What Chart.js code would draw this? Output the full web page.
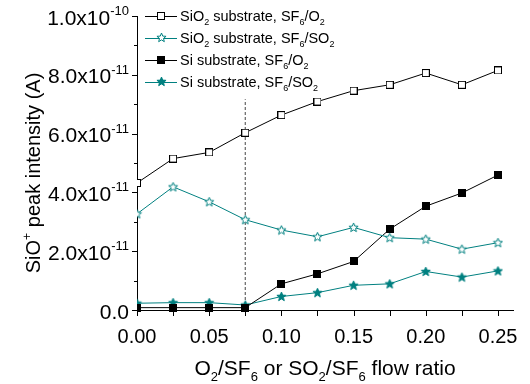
<!DOCTYPE html>
<html>
<head>
<meta charset="utf-8">
<script src="https://cdn.jsdelivr.net/npm/chart.js@4"></script>
<style>
  html, body { margin: 0; padding: 0; background: #fff; }
  #wrap { width: 530px; height: 384px; }
</style>
</head>
<body>
<div id="wrap"><canvas id="grafico"></canvas></div>
<script>
// Dados
const ratio = [0, 0.025, 0.05, 0.075, 0.1, 0.125, 0.15, 0.175, 0.2, 0.225, 0.25];
const sio2O2 = [4.32e-11, 5.15e-11, 5.36e-11, 6.03e-11, 6.63e-11, 7.09e-11, 7.46e-11, 7.66e-11, 8.06e-11, 7.66e-11, 8.15e-11];
const sio2SO2 = [3.27e-11, 4.19e-11, 3.68e-11, 3.07e-11, 2.72e-11, 2.49e-11, 2.81e-11, 2.46e-11, 2.41e-11, 2.07e-11, 2.29e-11];
const siO2 = [0.08e-11, 0.08e-11, 0.08e-11, 0.08e-11, 0.89e-11, 1.23e-11, 1.65e-11, 2.75e-11, 3.53e-11, 3.98e-11, 4.59e-11];
const siSO2 = [0.23e-11, 0.25e-11, 0.25e-11, 0.17e-11, 0.46e-11, 0.59e-11, 0.84e-11, 0.89e-11, 1.31e-11, 1.12e-11, 1.33e-11];

// linha tracejada vertical
const dashX = 0.075;
const dashTop = 7.17e-11;

// Eixos
const xTickValues = [0, 0.05, 0.1, 0.15, 0.2, 0.25];
const xTickLabels = ['0.00', '0.05', '0.10', '0.15', '0.20', '0.25'];
const xMinorValues = [0.025, 0.075, 0.125, 0.175, 0.225];
const yTickValues = [0, 2e-11, 4e-11, 6e-11, 8e-11, 1e-10];
const yTickLabels = ['0.0', '2.0x10^{-11}', '4.0x10^{-11}', '6.0x10^{-11}', '8.0x10^{-11}', '1.0x10^{-10}'];
const yMinorValues = [1e-11, 3e-11, 5e-11, 7e-11, 9e-11];

const legendLabels = ['SiO_2 substrate, SF_6/O_2', 'SiO_2 substrate, SF_6/SO_2', 'Si substrate, SF_6/O_2', 'Si substrate, SF_6/SO_2'];
const xTitle = 'O_2/SF_6 or SO_2/SF_6 flow ratio';
const yTitle = 'SiO^+ peak intensity (A)';

const teal = '#008080';
const FONT = "'Liberation Sans', Arial, sans-serif";

// Marcadores
function quadrado(cheio) {
    const c = document.createElement('canvas');
    c.width = 8; c.height = 8;
    const g = c.getContext('2d');
    g.fillStyle = cheio ? '#000' : '#fff';
    g.fillRect(0, 0, 8, 8);
    g.strokeStyle = '#000';
    g.lineWidth = 1;
    g.strokeRect(0.5, 0.5, 7, 7);
    return c;
}

function estrela(cheia) {
    const c = document.createElement('canvas');
    c.width = 11; c.height = 11;
    const g = c.getContext('2d');
    g.beginPath();
    for (let i = 0; i < 10; i++) {
        const r = i % 2 ? 2.1 : 4.8;
        const a = -Math.PI / 2 + i * Math.PI / 5;
        const px = 5.5 + r * Math.cos(a), py = 5.8 + r * Math.sin(a);
        if (i === 0) g.moveTo(px, py); else g.lineTo(px, py);
    }
    g.closePath();
    g.fillStyle = cheia ? teal : '#fff';
    g.fill();
    g.strokeStyle = teal;
    g.lineWidth = 1;
    g.stroke();
    return c;
}

const marcadores = [quadrado(false), estrela(false), quadrado(true), estrela(true)];
const cores = ['#000', teal, '#000', teal];

// Texto com sub/sobrescrito
function parseRich(str) {
    const segs = [];
    let buf = '';
    for (let i = 0; i < str.length; i++) {
        const ch = str[i];
        if (ch === '_' || ch === '^') {
            if (buf) { segs.push({ t: buf, m: 0 }); buf = ''; }
            let t;
            if (str[i + 1] === '{') {
                const end = str.indexOf('}', i + 2);
                t = str.slice(i + 2, end);
                i = end;
            } else {
                t = str[i + 1];
                i++;
            }
            segs.push({ t: t, m: ch === '_' ? 1 : -1 });
        } else {
            buf += ch;
        }
    }
    if (buf) segs.push({ t: buf, m: 0 });
    return segs;
}

function drawRich(ctx, str, x, y, size, align) {
    const segs = parseRich(str);
    const small = size * 0.62;
    let total = 0;
    segs.forEach(s => {
        ctx.font = (s.m ? small : size) + 'px ' + FONT;
        s.w = ctx.measureText(s.t).width;
        total += s.w;
    });
    let cx = align === 'right' ? x - total : align === 'center' ? x - total / 2 : x;
    ctx.textAlign = 'left';
    ctx.textBaseline = 'alphabetic';
    segs.forEach(s => {
        ctx.font = (s.m ? small : size) + 'px ' + FONT;
        const dy = s.m === 1 ? size * 0.28 : s.m === -1 ? -size * 0.45 : 0;
        ctx.fillText(s.t, cx, y + dy);
        cx += s.w;
    });
}

// Eixos, títulos e legenda desenhados à mão
const eixosPlugin = {
    id: 'eixos',
    afterDraw(chart) {
        const ctx = chart.ctx;
        const xs = chart.scales.x, ys = chart.scales.y;
        const area = chart.chartArea;
        ctx.save();
        ctx.strokeStyle = '#000';
        ctx.fillStyle = '#000';
        ctx.lineWidth = 1;

        // ticks y
        ctx.beginPath();
        yTickValues.forEach(v => {
            const py = Math.round(ys.getPixelForValue(v)) + 0.5;
            ctx.moveTo(area.left - 5, py); ctx.lineTo(area.left, py);
        });
        yMinorValues.forEach(v => {
            const py = Math.round(ys.getPixelForValue(v)) + 0.5;
            ctx.moveTo(area.left - 3, py); ctx.lineTo(area.left, py);
        });
        // ticks x
        xTickValues.concat(xMinorValues).forEach(v => {
            const px = Math.round(xs.getPixelForValue(v)) + 0.5;
            ctx.moveTo(px, area.bottom); ctx.lineTo(px, area.bottom + 6);
        });
        ctx.stroke();

        yTickValues.forEach((v, i) => {
            drawRich(ctx, yTickLabels[i], 129, ys.getPixelForValue(v) + 8.5, 21, 'right');
        });
        xTickValues.forEach((v, i) => {
            drawRich(ctx, xTickLabels[i], xs.getPixelForValue(v), area.bottom + 33, 20, 'center');
        });

        drawRich(ctx, xTitle, 325, 375, 21, 'center');

        ctx.save();
        ctx.translate(40, 173);
        ctx.rotate(-Math.PI / 2);
        drawRich(ctx, yTitle, 0, 0, 20, 'center');
        ctx.restore();

        // legenda
        legendLabels.forEach((lab, i) => {
            const ly = 15.5 + i * 22;
            ctx.strokeStyle = cores[i];
            ctx.beginPath();
            ctx.moveTo(145, Math.round(ly) + 0.5);
            ctx.lineTo(177, Math.round(ly) + 0.5);
            ctx.stroke();
            const m = marcadores[i];
            ctx.drawImage(m, Math.round(161 - m.width / 2), Math.round(ly - m.height / 2));
            ctx.fillStyle = '#000';
            drawRich(ctx, lab, 180, ly + 5, 14.5, 'left');
        });
        ctx.restore();
    }
};

const series = [sio2O2, sio2SO2, siO2, siSO2];
const datasets = series.map((s, i) => ({
    label: legendLabels[i],
    data: ratio.map((r, k) => ({ x: r, y: s[k] })),
    borderColor: cores[i],
    borderWidth: 1,
    pointStyle: marcadores[i],
    pointRadius: 4,
    clip: { left: 0, top: false, right: false, bottom: false },
    order: i,
}));
datasets.push({
    label: 'corte',
    data: [{ x: dashX, y: 0 }, { x: dashX, y: dashTop }],
    borderColor: '#666',
    borderWidth: 1.2,
    borderDash: [3, 2],
    pointRadius: 0,
    order: 10,
});

new Chart(document.getElementById('grafico'), {
    type: 'line',
    data: { datasets: datasets },
    options: {
        responsive: true,
        maintainAspectRatio: false,
        animation: false,
        layout: { padding: { top: 16, right: 17, left: 0, bottom: 0 } },
        plugins: { legend: { display: false }, tooltip: { enabled: false } },
        scales: {
            x: {
                type: 'linear',
                min: 0,
                max: 0.2604,
                grid: { display: false },
                ticks: { display: false },
                border: { display: true, color: '#000', width: 1 },
                afterFit: s => { s.height = 74; },
            },
            y: {
                min: 0,
                max: 1e-10,
                grid: { display: false },
                ticks: { display: false },
                border: { display: true, color: '#000', width: 1 },
                afterFit: s => { s.width = 137; },
            },
        },
    },
    plugins: [eixosPlugin],
});
</script>
</body>
</html>
